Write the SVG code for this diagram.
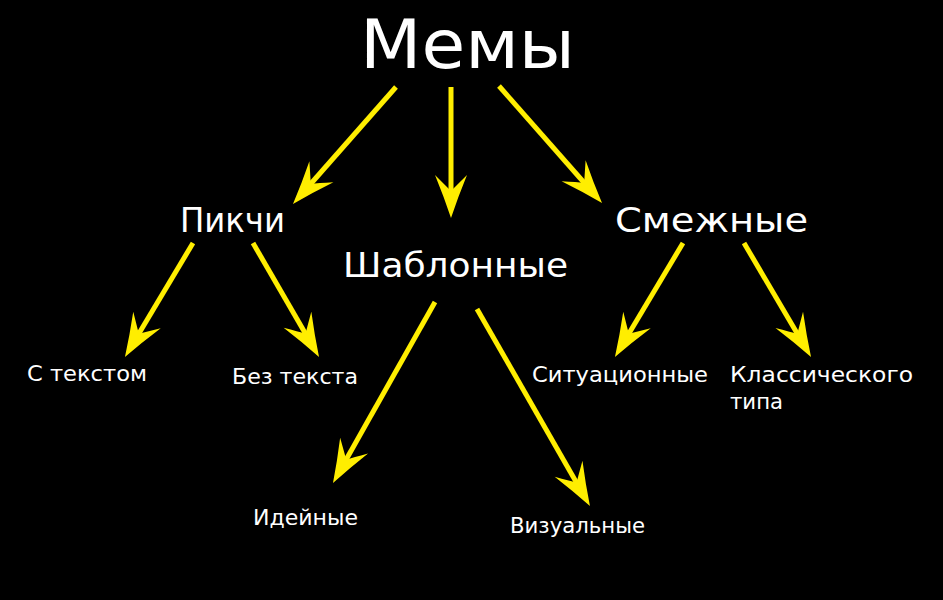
<svg xmlns="http://www.w3.org/2000/svg" width="943" height="600" viewBox="0 0 943 600">
<style>
  text { fill: #ffffff; font-family: "DejaVu Sans", "Noto Sans", sans-serif; }
  .t1 { font-size: 68px; }
  .t2 { font-size: 33px; }
  .t3 { font-size: 21px; }
  .arr { stroke: #ffee00; stroke-width: 5; fill: none; marker-end: url(#ah); }
</style>
<defs>
  <marker id="ah" markerUnits="userSpaceOnUse" viewBox="-46 -18 48 36" refX="-20" refY="0" markerWidth="48" markerHeight="36" orient="auto" overflow="visible">
    <path d="M0,0 Q-21,-7 -43,-16 Q-32,-5 -27,0 Q-32,5 -43,16 Q-21,7 0,0 Z" fill="#ffee00"/>
  </marker>
</defs>
<rect width="943" height="600" fill="#000000"/>
<g id="connectors">
  <line class="arr" x1="396" y1="87" x2="306.2" y2="189"/>
  <line class="arr" x1="451" y1="87" x2="451" y2="198"/>
  <line class="arr" x1="499" y1="86" x2="588.8" y2="188"/>
  <line class="arr" x1="193" y1="243" x2="135.2" y2="339.8"/>
  <line class="arr" x1="253" y1="243" x2="309" y2="339.7"/>
  <line class="arr" x1="435" y1="302" x2="342.8" y2="465.6"/>
  <line class="arr" x1="477" y1="309" x2="580" y2="488.7"/>
  <line class="arr" x1="683" y1="243" x2="625.2" y2="339.8"/>
  <line class="arr" x1="744" y1="243" x2="800.9" y2="339.8"/>
</g>
<g id="memy"><text class="t1" x="360" y="68" textLength="215" lengthAdjust="spacingAndGlyphs">Мемы</text></g>
<g id="pikchi"><text class="t2" x="180" y="232" textLength="105" lengthAdjust="spacingAndGlyphs">Пикчи</text></g>
<g id="shablonnye"><text class="t2" x="343" y="277" textLength="225" lengthAdjust="spacingAndGlyphs">Шаблонные</text></g>
<g id="smezhnye"><text class="t2" x="615" y="232" textLength="193" lengthAdjust="spacingAndGlyphs">Смежные</text></g>
<g id="s-tekstom"><text class="t3" x="27" y="381" textLength="120" lengthAdjust="spacingAndGlyphs">С текстом</text></g>
<g id="bez-teksta"><text class="t3" x="232" y="384" textLength="126" lengthAdjust="spacingAndGlyphs">Без текста</text></g>
<g id="situatsionnye"><text class="t3" x="532" y="382" textLength="176" lengthAdjust="spacingAndGlyphs">Ситуационные</text></g>
<g id="klassicheskogo"><text class="t3" x="730" y="382" textLength="183" lengthAdjust="spacingAndGlyphs">Классического</text><text class="t3" x="730" y="409" textLength="53" lengthAdjust="spacingAndGlyphs">типа</text></g>
<g id="ideynye"><text class="t3" x="253" y="525" textLength="105" lengthAdjust="spacingAndGlyphs">Идейные</text></g>
<g id="vizualnye"><text class="t3" x="510" y="533" textLength="135" lengthAdjust="spacingAndGlyphs">Визуальные</text></g>
</svg>
